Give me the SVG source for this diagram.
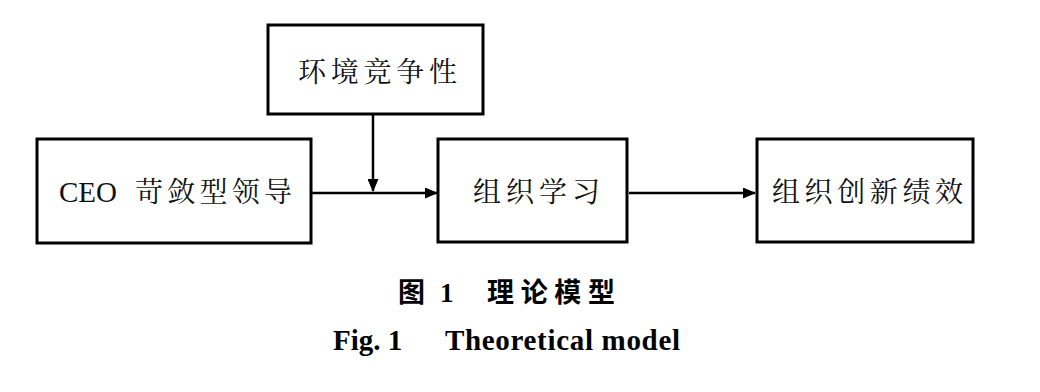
<svg xmlns="http://www.w3.org/2000/svg" width="1040" height="392" viewBox="0 0 1040 392">
<style>
.box{fill:#fff;stroke:#000;stroke-width:3}
.lbl{font-family:"Liberation Serif","Noto Serif CJK SC","Noto Sans CJK SC",serif;font-size:28px;fill:#111}
.con{stroke:#000;stroke-width:2.5;fill:none}
.cap{font-family:"Liberation Serif","Noto Sans CJK SC",serif;font-weight:bold;fill:#000}
</style>
<defs>
<marker id="ah" markerWidth="13" markerHeight="11" refX="12" refY="5.5" orient="auto" markerUnits="userSpaceOnUse">
<path d="M0,0 L13,5.5 L0,11 Z" fill="#000"/>
</marker>
</defs>
<rect width="1040" height="392" fill="#fff"/>
<g id="env">
<rect class="box" x="268" y="25" width="215" height="89"/>
<text class="lbl" x="298" y="82" textLength="159" lengthAdjust="spacing">环境竞争性</text>
</g>
<g id="ceo">
<rect class="box" x="37" y="139" width="274" height="104"/>
<text class="lbl" y="202"><tspan x="59" font-size="29">CEO</tspan><tspan x="135" textLength="157" lengthAdjust="spacing">苛敛型领导</tspan></text>
</g>
<g id="learn">
<rect class="box" x="438" y="139" width="189" height="103"/>
<text class="lbl" x="473" y="202" textLength="127" lengthAdjust="spacing">组织学习</text>
</g>
<g id="perf">
<rect class="box" x="757" y="139" width="216" height="103"/>
<text class="lbl" x="772" y="202" textLength="191" lengthAdjust="spacing">组织创新绩效</text>
</g>
<g id="connectors">
<line class="con" x1="312" y1="193" x2="437" y2="193" marker-end="url(#ah)"/>
<line class="con" x1="373" y1="115" x2="373" y2="191" marker-end="url(#ah)"/>
<line class="con" x1="629" y1="193" x2="755" y2="193" marker-end="url(#ah)"/>
</g>
<g id="caption">
<text class="cap" y="302" font-size="27"><tspan x="398">图</tspan><tspan x="440">1</tspan><tspan x="487" textLength="128" lengthAdjust="spacing">理论模型</tspan></text>
<text class="cap" y="350" font-size="29"><tspan x="333">Fig. 1</tspan><tspan x="445" textLength="235" lengthAdjust="spacing">Theoretical model</tspan></text>
</g>
</svg>
